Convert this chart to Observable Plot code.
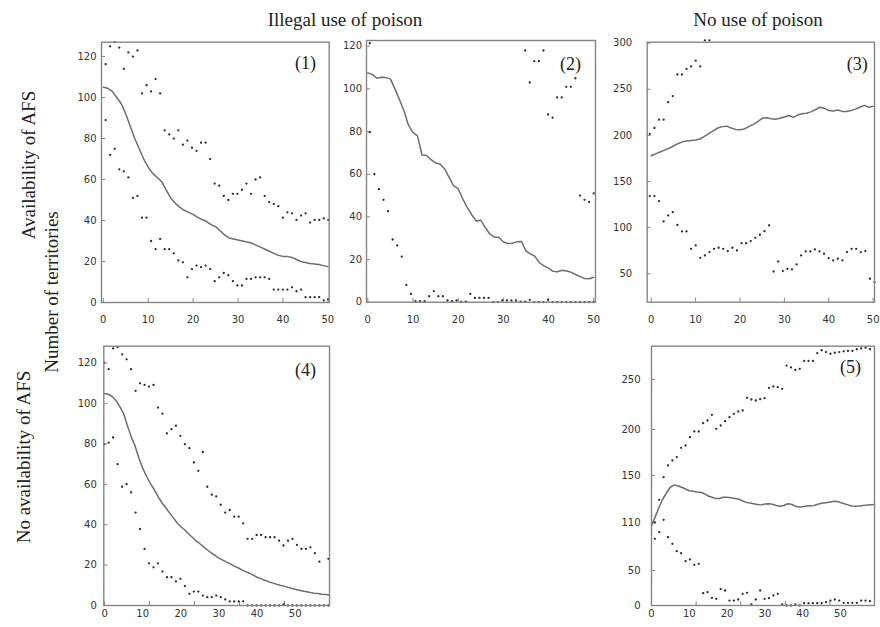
<!DOCTYPE html>
<html><head><meta charset="utf-8">
<script src="https://cdn.jsdelivr.net/npm/d3@7"></script>
<script src="https://cdn.jsdelivr.net/npm/@observablehq/plot@0.6"></script>
<style>
body{margin:0;background:#fff;}
#wrap{position:relative;width:880px;height:627px;overflow:hidden;background:#fff;}
.p{position:absolute;}
.lbl{position:absolute;font-family:"Liberation Serif","Times New Roman",serif;font-size:19px;color:#222;white-space:nowrap;line-height:1;}
.rot{transform:translate(-50%,-50%) rotate(-90deg);}
.hz{transform:translate(-50%,-50%);}
</style></head><body><div id="wrap"></div>
<script>
// ---------- text ----------
const colTitles = ["Illegal use of poison", "No use of poison"];
const rowTitles = ["Availability of AFS", "No availability of AFS"];
const yTitle = "Number of territories";
const panelLabels = ["(1)", "(2)", "(3)", "(4)", "(5)"];

// ---------- tick labels ----------
const xTicks = [0, 10, 20, 30, 40, 50];
const xInnerTicksLong = [0, 11.8, 23.6, 35.4, 47.2, 59];
const yTicks120 = [0, 20, 40, 60, 80, 100, 120];
const yTicks3 = [50, 100, 150, 200, 250, 300];
const yTicks5 = [0, 50, 110, 150, 200, 250];

// ---------- panel 1 ----------
const p1Mean = [105,104.5,103,100,97,92,86,80,75,70,66,63,61,59,55,51,48.5,46.5,45,44,43,41.5,40.5,39.5,38,37,35,33,31.5,31,30.5,30,29.5,29,28,27,26,25,24,23,22.5,22.5,22,21,20,19.5,19,18.8,18.5,18,17.5];
const p1Upper = [116.3,125,127,124.4,114,122,120,123,102,106,103,109,102,84,82,80,84,77,79,75.5,74,78,78,70,58,57,52,50,53,53,55,58,53,60,61,52,49,48,47,41.4,44,43.5,40.3,42.4,43.5,39,40.3,40.3,41,40.3];
const p1Lower = [89,72,75,65,64,61,51,52,41.4,41.4,30,26,31,26,26,24,20.5,19.6,12.3,16.3,18,17.3,18,16.3,10.4,12.3,14.4,13.3,10.4,8.3,8.3,11.5,11.5,12.3,12.3,12.3,11.5,6.3,6.3,6.3,6.3,7.4,5.5,6.3,2.6,2.6,2.6,2.6,1,1.5];

// ---------- panel 2 ----------
const p2Mean = [107.5,106.8,105,105.5,105.3,104.7,100,95,89.8,83,79.5,78,69,68.8,66.8,65.3,64.8,62.5,58.5,54.5,53.2,48.5,44.5,41,38,38.5,35,32,30.5,30.5,28.2,27.5,27.6,28.3,28.5,24,22.7,21.5,18.5,17,16,14.5,14.3,15,14.6,14,13,12,11.1,11,11.7];
const p2Upper = [121.4,null,null,null,null,null,null,null,null,null,null,null,null,null,null,null,null,null,null,null,null,null,null,null,null,null,null,null,null,null,null,null,null,null,118,103,113,113,118,88,86.5,96,96,101,101,105,50,48,47,51];
const p2Lower = [79.7,60,53,48,42.7,29.4,26.6,21.4,8.1,3.9,0.5,0.5,0.5,2.8,5.2,2.8,2.8,0.8,0.5,0.8,0.3,0.3,3.9,2,2,2,2,0,0,0.8,0.8,0.8,0.8,0.3,0.3,1.1,0,0,0,1.1,0,0,0,0,0,0,0,0,0,0];

// ---------- panel 3 ----------
const p3Mean = [178,180,182,184,186,188.5,191,193,194,194.5,195,196,199,202,205,208,209.5,210,208,206.5,206,207,209.5,212,215,218.5,219,218,217.5,218.5,220,221.5,219.5,222,223.5,224,225.5,228,230.5,229.5,227,226.5,227.5,226,226,227,228.5,230.5,232.5,230.5,231.5];
const p3Upper = [201.7,208,217,217,236,242.6,266,266,272,274.7,281,274.7,303,303,null,null,null,null,null,null,null,null,null,null,null,null,null,null,null,null,null,null,null,null,null,null,null,null,null,null,null,null,null,null,null,null,null,null,null,null];
const p3Lower = [134.2,134.2,128.8,106.7,113.2,116.8,103,95.9,95.9,77.1,80.7,67.3,69.9,73.5,77.1,78.2,77.1,74.6,78.2,75.3,83.2,83.2,85.4,89,92.3,96.2,102.4,52.5,63.4,52.9,55.4,54.7,60.1,69.9,74.2,74.2,76.4,74.2,71.7,67,64.5,66.3,64.5,73.5,77.1,77.1,73.5,74.6,44.6,41];

// ---------- panel 4 ----------
const p4Mean = [105,104.6,103.5,101.5,98.5,95,89,83.5,79,73,68,64,60.5,57.5,54,51,48.5,46,43.5,41,39,37.5,35.5,33.8,32,30.6,29,27.5,26,24.8,23.5,22.5,21.5,20.6,19.5,18.7,17.6,16.8,16,15,14,13.3,12.5,11.8,11.2,10.6,10,9.6,9.1,8.5,8,7.6,7.2,6.8,6.4,6.1,5.9,5.6,5.4,5.2];
const p4Upper = [120.3,117,127.3,128,124.4,121.9,117,106.3,110,109.2,108.4,109.2,98,95,85.2,87.3,89,84,79.9,77.9,70.8,66.7,76,58.8,54.9,54,49.9,46,47.3,44,44,40.7,33,33,34.9,34.9,33.8,33.8,33.8,32.1,29.7,32.1,33,30,28,28,28.8,25.9,21.7,null,23.1];
const p4Lower = [79.9,80.7,83.2,70,58.8,60.1,56,46,37.9,28,20.9,18.9,20.9,16.8,14,14,11.9,13.2,9.6,5.8,6.9,6.9,4.9,4.1,4.1,4.9,4.1,3,2,2,2,2,0,0,0,0,0,0,0,0,0.5,0,0,0,0,0,0,0,0,0,0];

// ---------- panel 5 ----------
const p5Mean = [106,115,123,130,135.5,140,142,141,140,138.5,137,136.5,136,135.8,134.5,132.5,131.5,130.5,130.5,131.5,131.5,131,130.5,130,128.5,127.3,126.5,126,125.3,125,125.8,126,125.5,124.5,123.9,124.5,126,125.5,124,123.2,123.5,124,124.3,124.5,125.5,126.3,126.8,127.3,127.8,128,127,126,125,124,123.8,124,124.5,124.8,125.2,125.3];
const p5Upper = [110,129.3,148.6,160.9,166.3,170,180.1,182.6,191.7,197.8,197.8,206.3,209,214.7,200.7,204,208.3,212.3,215.7,218,219,231.7,230,229,230.3,231.3,241.7,243,242.3,240.7,263.8,262,259.5,260.6,268.4,268.4,268.4,276.2,279,277.2,275.5,276.5,277.2,277.9,278.3,278.3,280,280.8,281.5,280];
const p5Lower = [89.6,97.9,112.3,91.7,83.3,74.2,71.7,61.7,63.8,57.1,58.3,17.6,19,11,9.5,23.3,21.4,7.1,7.1,8.6,16.7,18.1,1.4,8.6,21.4,9.5,10.5,14.3,16.7,1.4,0,0,1.4,0,3.3,3.3,3.3,3.3,3.3,4.8,7.1,8.6,7.1,3.8,3.8,3.8,3.8,7.1,7.1,6.2];
// panel 5's printed axis is uneven: tick values and the height (px above the frame bottom) where each sits
const p5AxisValues = [0, 50, 110, 150, 200, 250, 283];
const p5AxisHeights = [0, 35, 83, 130, 176, 226, 259.3];

// ---------- drawing ----------
const wrap = document.getElementById("wrap");
const FRAME = "#858585";
const TICKFONT = "'DejaVu Sans', Verdana, sans-serif";
const SERIF = "'Liberation Serif', 'Times New Roman', serif";

function dotsOf(arr, x0, x1, s) {
  const n = arr.length;
  const out = [];
  arr.forEach((v, i) => { if (v != null) out.push({x: x0 + (x1 - x0) * i / (n - 1), y: v, s}); });
  return out;
}

function panel(c) {
  const fw = c.width - c.mL - c.mR, fh = c.height - c.mT - c.mB;
  const ym = c.yMap || (v => v);
  const line = c.mean.map((v, i) => ({x: i, y: v}));
  const dots = dotsOf(c.upper, c.dx0, c.dx1, "u").concat(dotsOf(c.lower, c.dx0, c.dx1, "l"));
  const yTickPos = c.yTicks.map(ym);
  const svg = Plot.plot({
    width: c.width, height: c.height,
    marginLeft: c.mL, marginRight: c.mR, marginTop: c.mT, marginBottom: c.mB,
    style: {fontFamily: TICKFONT, fontSize: "10px", color: "#333", background: "transparent", overflow: "visible"},
    x: {domain: c.xDomain, axis: null, label: null},
    y: {domain: c.yDomain, axis: null, label: null},
    marks: [
      Plot.ruleX(c.xInner, {stroke: FRAME, strokeWidth: 1, insetTop: fh - 4}),
      Plot.ruleY(yTickPos, {stroke: FRAME, strokeWidth: 1, insetRight: fw - 4}),
      Plot.axisX(c.xTicks, {tickSize: 0, tickPadding: c.xPad, label: null, fontSize: 10, fill: "#333"}),
      Plot.axisY(yTickPos, {tickSize: 0, tickPadding: c.yPad, label: null, fontSize: 10, fill: "#333",
        tickFormat: (d, i) => String(c.yTicks[i])}),
      Plot.line(line, {x: "x", y: d => ym(d.y), stroke: "#6e6e6e", strokeWidth: 1.5}),
      Plot.dot(dots, {x: "x", y: d => ym(d.y), r: 1.15, fill: "#2b2b2b", stroke: "none"}),
      Plot.frame({stroke: FRAME, strokeWidth: 1.4}),
      Plot.text([c.label], {text: d => d, frameAnchor: "top-right", dx: c.ldx, dy: c.ldy,
        textAnchor: "middle", lineAnchor: "middle", fontSize: 18, fontFamily: SERIF, fill: "#222"})
    ]
  });
  const div = document.createElement("div");
  div.className = "p";
  div.style.left = c.left + "px";
  div.style.top = c.top + "px";
  div.appendChild(svg);
  wrap.appendChild(div);
}

panel({left: 60, top: 30, width: 280, height: 300, mL: 41, mR: 11.3, mT: 11.7, mB: 28,
  xDomain: [-0.4, 50.3], yDomain: [0, 127], xTicks, xInner: xTicks, yTicks: yTicks120,
  mean: p1Mean, upper: p1Upper, lower: p1Lower, dx0: 0.52, dx1: 50.1,
  xPad: 13.4, yPad: 5, label: panelLabels[0], ldx: -23.7, ldy: 21.3});

panel({left: 330, top: 30, width: 275, height: 300, mL: 36, mR: 10, mT: 10, mB: 28.3,
  xDomain: [-0.29, 50.4], yDomain: [0, 122.7], xTicks, xInner: xTicks, yTicks: yTicks120,
  mean: p2Mean, upper: p2Upper, lower: p2Lower, dx0: 0.44, dx1: 50,
  xPad: 13.4, yPad: 4.5, label: panelLabels[1], ldx: -25, ldy: 23.3});

panel({left: 610, top: 30, width: 270, height: 300, mL: 36.7, mR: 6, mT: 11.7, mB: 28.3,
  xDomain: [-0.9, 50.3], yDomain: [19.2, 301], xTicks, xInner: xTicks, yTicks: yTicks3,
  mean: p3Mean, upper: p3Upper, lower: p3Lower, dx0: -0.3, dx1: 50.3,
  xPad: 13.4, yPad: 15, label: panelLabels[2], ldx: -17.3, ldy: 21.6});

panel({left: 60, top: 330, width: 280, height: 297, mL: 43.3, mR: 11, mT: 15.7, mB: 22,
  xDomain: [-0.2, 59], yDomain: [0, 128.4], xTicks, xInner: xInnerTicksLong, yTicks: yTicks120,
  mean: p4Mean, upper: p4Upper, lower: p4Lower, dx0: -0.1, dx1: 58.7,
  xPad: 4, yPad: 7, label: panelLabels[3], ldx: -24, ldy: 24.3});

const p5Map = d3.scaleLinear().domain(p5AxisValues).range(p5AxisHeights);
panel({left: 610, top: 330, width: 270, height: 297, mL: 41, mR: 6, mT: 15.7, mB: 22,
  xDomain: [0, 59], yDomain: [0, 259.3], yMap: p5Map,
  xTicks, xInner: xInnerTicksLong, yTicks: yTicks5,
  mean: p5Mean, upper: p5Upper, lower: p5Lower, dx0: 0.88, dx1: 57.8,
  xPad: 4, yPad: 11, label: panelLabels[4], ldx: -24, ldy: 21});

function addLabel(text, x, y, rotated) {
  const d = document.createElement("div");
  d.className = "lbl " + (rotated ? "rot" : "hz");
  d.style.left = x + "px";
  d.style.top = y + "px";
  d.textContent = text;
  wrap.appendChild(d);
}
addLabel(colTitles[0], 345, 19, false);
addLabel(colTitles[1], 758, 19, false);
addLabel(rowTitles[0], 28, 165, true);
addLabel(yTitle, 51, 292, true);
addLabel(rowTitles[1], 23, 457, true);
</script>
</body></html>
